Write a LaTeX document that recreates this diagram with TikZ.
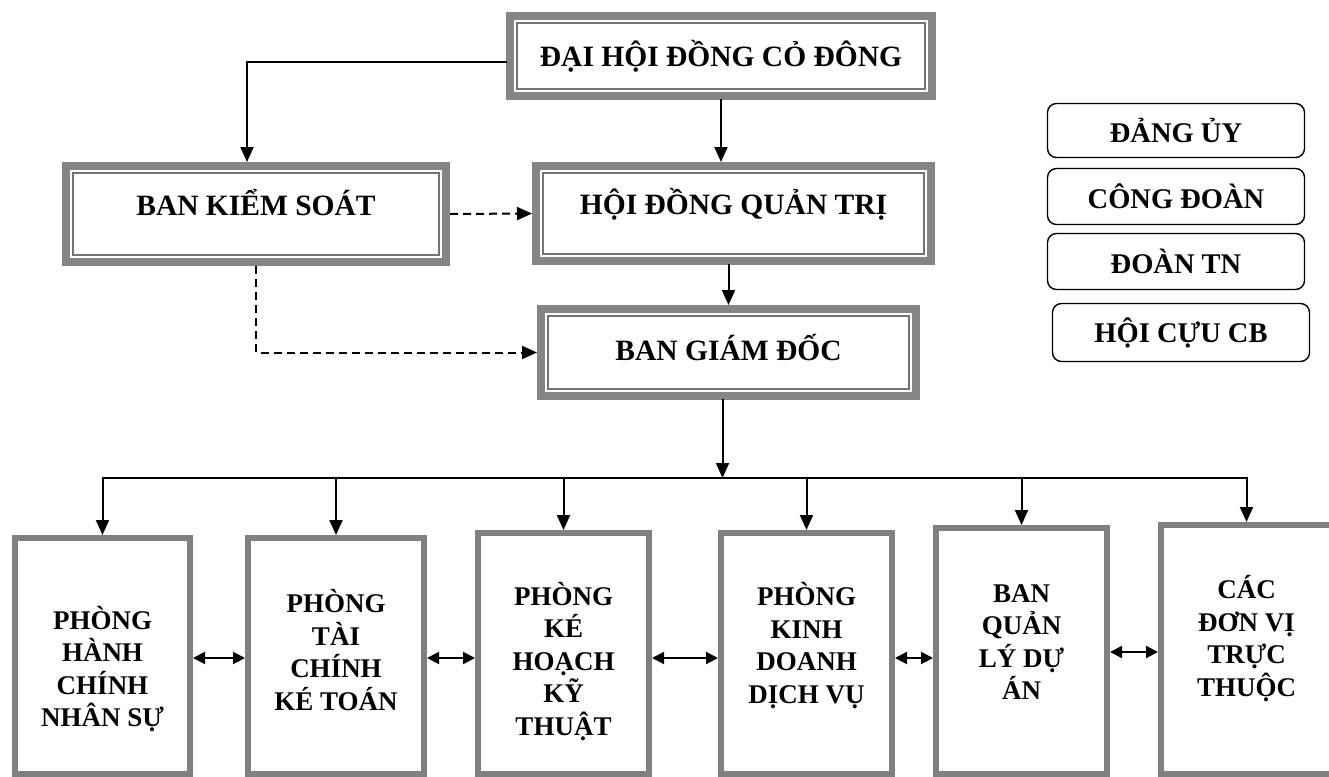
\documentclass[tikz,border=0pt]{standalone}
\usepackage{fontspec}
\setmainfont{Liberation Serif}
\usetikzlibrary{arrows.meta,calc}
\begin{document}
\begin{tikzpicture}[x=1pt,y=-1pt,
  txt/.style={align=center,font=\fontsize{27}{32.5}\selectfont\bfseries},
  toptxt/.style={align=center,font=\fontsize{29.5}{34}\selectfont\bfseries},
  topbox/.style={draw=black!48, line width=8pt, fill=white,
    path picture={\draw[black!55,line width=1.4pt]
      ([shift={(7pt,-7pt)}]path picture bounding box.north west) rectangle
      ([shift={(-7pt,7pt)}]path picture bounding box.south east);}},
  botbox/.style={draw=black!50, line width=6pt, fill=white},
  sidebox/.style={draw=black, line width=1.4pt, rounded corners=9pt, fill=white,
    minimum width=257pt, align=center, font=\fontsize{28.5}{33}\selectfont\bfseries},
  conn/.style={line width=2pt, line cap=rect},
  arr/.style={conn, -{Triangle[length=15pt,width=13pt]}},
  darr/.style={conn, {Triangle[length=12pt,width=12pt]}-{Triangle[length=12pt,width=12pt]}},
  dsh/.style={line width=2pt, dash pattern=on 8pt off 5pt, -{Triangle[length=15pt,width=13pt]}}
]
\useasboundingbox[fill=white] (0,0) rectangle (1329,776);

% top row
\node[topbox, minimum width=422pt, minimum height=80pt,
  label={[toptxt]center:ĐẠI HỘI ĐỒNG CỎ ĐÔNG}] (dhcd) at (721,56) {};
\node[topbox, minimum width=380pt, minimum height=96pt,
  label={[toptxt,yshift=11pt]center:BAN KIỂM SOÁT}] (bks) at (256,214) {};
\node[topbox, minimum width=395pt, minimum height=95pt,
  label={[toptxt,yshift=9pt]center:HỘI ĐỒNG QUẢN TRỊ}] (hdqt) at (733.5,213.5) {};
\node[topbox, minimum width=375pt, minimum height=87pt,
  label={[toptxt,yshift=5pt]center:BAN GIÁM ĐỐC}] (bgd) at (728.5,352.5) {};

% side boxes
\node[sidebox, minimum height=54pt] (du) at (1176,130.5) {ĐẢNG ỦY};
\node[sidebox, minimum height=56pt] (cd) at (1176,196.5) {CÔNG ĐOÀN};
\node[sidebox, minimum height=56pt] (dtn) at (1176,261.5) {ĐOÀN TN};
\node[sidebox, minimum height=58pt] (hcc) at (1181,332.5) {HỘI CỰU CB};

% bottom boxes
\node[botbox, minimum width=175pt, minimum height=236pt,
  label={[txt,yshift=-13pt]center:PHÒNG\\HÀNH\\CHÍNH\\NHÂN SỰ}] (b1) at (102.5,656) {};
\node[botbox, minimum width=176pt, minimum height=236pt,
  label={[txt,yshift=6pt]center:PHÒNG\\TÀI\\CHÍNH\\KÉ TOÁN}] (b2) at (336,656) {};
\node[botbox, minimum width=171pt, minimum height=241pt,
  label={[txt,yshift=-8pt]center:PHÒNG\\KÉ\\HOẠCH\\KỸ\\THUẬT}] (b3) at (563.5,653.5) {};
\node[botbox, minimum width=171pt, minimum height=241pt,
  label={[txt,yshift=8pt]center:PHÒNG\\KINH\\DOANH\\DỊCH VỤ}] (b4) at (806.5,653.5) {};
\node[botbox, minimum width=171pt, minimum height=246pt,
  label={[txt,yshift=9pt]center:BAN\\QUẢN\\LÝ DỰ\\ÁN}] (b5) at (1021.5,651) {};
\node[botbox, minimum width=171pt, minimum height=249pt,
  label={[txt,yshift=11pt]center:CÁC\\ĐƠN VỊ\\TRỰC\\THUỘC}] (b6) at (1246.5,649.5) {};

\coordinate (bus) at (0,478);
\coordinate (r1) at (0,658);
\coordinate (r2) at (0,652);

% connectors
\draw[arr] ([yshift=-6pt]dhcd.west) -| ([xshift=-9pt]bks.north);
\draw[arr] (dhcd.south) -- (dhcd.south |- hdqt.north);
\draw[arr] (bgd.north |- hdqt.south) -- (bgd.north);
\draw[dsh] (bks.east) -- (hdqt.west);
\draw[dsh] (bks.south) |- (bgd.west);
\draw[arr] ([xshift=-6pt]bgd.south) -- ([xshift=-6pt]bgd.south |- bus);
\draw[arr] (b6.north |- bus) -| (b1.north);
\draw[arr] (b6.north |- bus) -- (b6.north);
\foreach \b in {b2,b3,b4,b5}{
  \draw[arr] (\b.north |- bus) -- (\b.north);
}
\draw[darr] (b1.east |- r1) -- (b2.west |- r1);
\draw[darr] (b2.east |- r1) -- (b3.west |- r1);
\draw[darr] (b3.east |- r1) -- (b4.west |- r1);
\draw[darr] (b4.east |- r1) -- (b5.west |- r1);
\draw[darr] (b5.east |- r2) -- (b6.west |- r2);
\end{tikzpicture}
\end{document}
